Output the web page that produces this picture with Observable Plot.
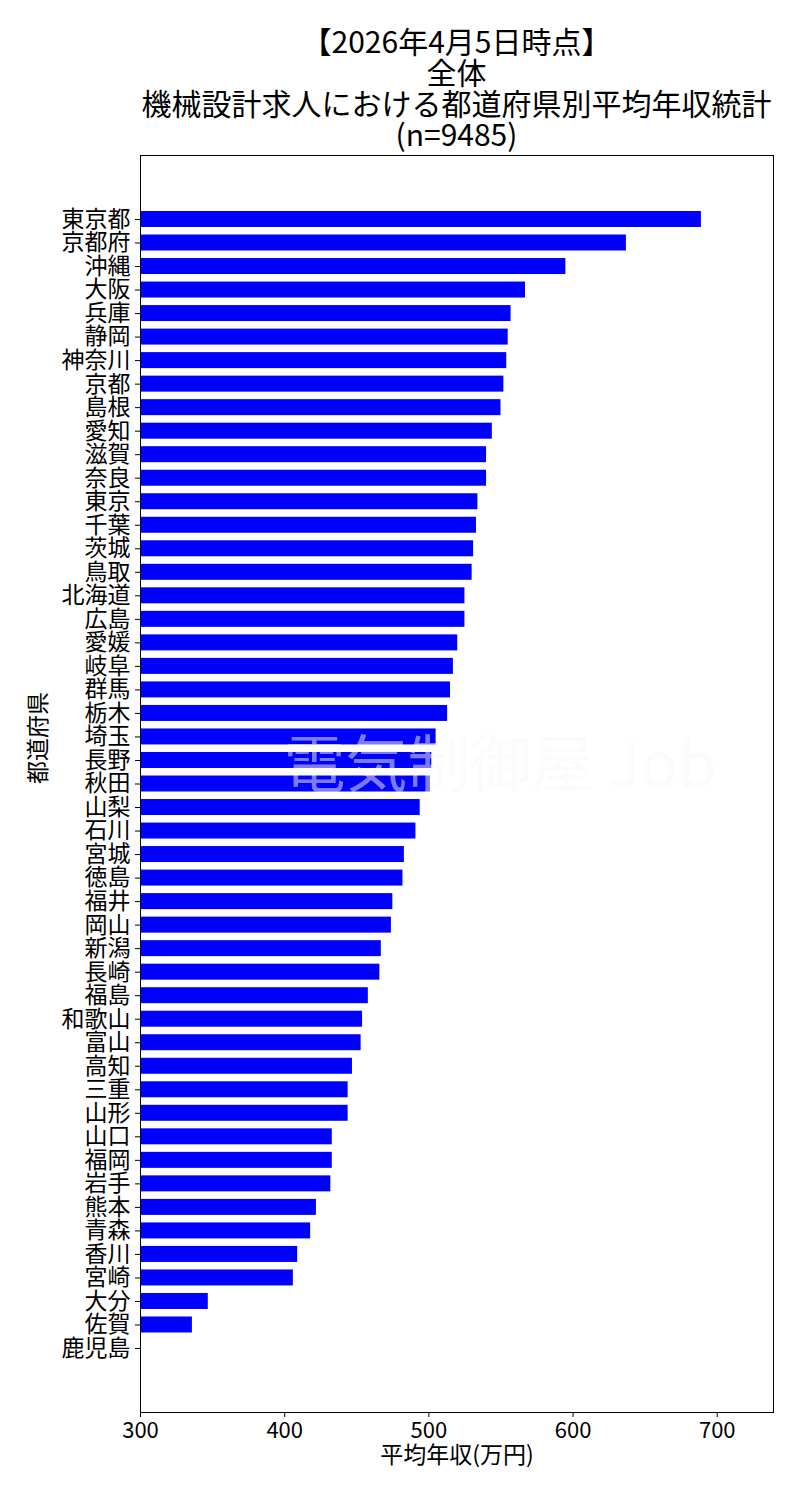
<!DOCTYPE html>
<html><head><meta charset="utf-8">
<script src="https://cdn.jsdelivr.net/npm/d3@7"></script>
<script src="https://cdn.jsdelivr.net/npm/@observablehq/plot@0.6"></script>
<style>
body{margin:0;background:#fff;font-family:"Noto Sans CJK JP",sans-serif;}
#title{width:800px;box-sizing:border-box;padding-left:113px;padding-top:25px;height:140px;text-align:center;font-size:30px;line-height:31px;color:#000;}
#title div{white-space:nowrap;}
</style></head><body>
<div id="title"></div>
<div id="chart"></div>
<script>
const titleLines = ["【2026年4月5日時点】", "全体", "機械設計求人における都道府県別平均年収統計", "(n=9485)"];
const prefectures = ["東京都","京都府","沖縄","大阪","兵庫","静岡","神奈川","京都","島根","愛知","滋賀","奈良","東京","千葉","茨城","鳥取","北海道","広島","愛媛","岐阜","群馬","栃木","埼玉","長野","秋田","山梨","石川","宮城","徳島","福井","岡山","新潟","長崎","福島","和歌山","富山","高知","三重","山形","山口","福岡","岩手","熊本","青森","香川","宮崎","大分","佐賀","鹿児島"];
const salaries = [689,637,595,567,557,555,554,552,550,544,540,540,534,533,531,530,525,525,520,517,515,513,505,502,501,494,491,483,482,475,474,467,466,458,454,453,447,444,444,433,433,432,422,418,409,406,347,336,null];
const xTicks = [300,400,500,600,700];
const xLabel = "平均年収(万円)";
const yLabel = "都道府県";
const watermark = "電気制御屋 Job";

document.getElementById("title").innerHTML = titleLines.map(t => `<div>${t}</div>`).join("");

const data = prefectures.map((p, i) => ({pref: p, salary: salaries[i]}));

const chart = Plot.plot({
  width: 800,
  height: 1360,
  marginTop: 15,
  marginBottom: 88,
  marginLeft: 140,
  marginRight: 27,
  style: {fontFamily: '"Noto Sans CJK JP", sans-serif', fontSize: "22px", color: "#000", background: "#fff", overflow: "visible"},
  x: {domain: [300, 739], ticks: xTicks, label: null},
  y: {domain: prefectures, paddingInner: 0.32, paddingOuter: 2.38, round: false, label: null},
  marks: [
    Plot.barX(data.filter(d => d.salary != null), {x: "salary", y: "pref", fill: "#0000ff", clip: true}),
    Plot.text([watermark], {frameAnchor: "middle", dx: 43, dy: -17, fontSize: 62, fontWeight: "normal", fill: "#f7f7f7", fillOpacity: 0.5}),
    Plot.frame({stroke: "#000", strokeWidth: 1}),
    Plot.axisX({ticks: xTicks, tickSize: 5, tickPadding: 5, label: null, fontSize: 22}),
    Plot.axisY({tickSize: 5, tickPadding: 5, label: null, fontSize: 23}),
    Plot.text([xLabel], {frameAnchor: "bottom", dy: 50, fontSize: 23, fill: "#000"}),
    Plot.text([yLabel], {frameAnchor: "left", dx: -102, rotate: -90, fontSize: 23, fill: "#000"})
  ]
});
document.getElementById("chart").appendChild(chart);
</script>
</body></html>
